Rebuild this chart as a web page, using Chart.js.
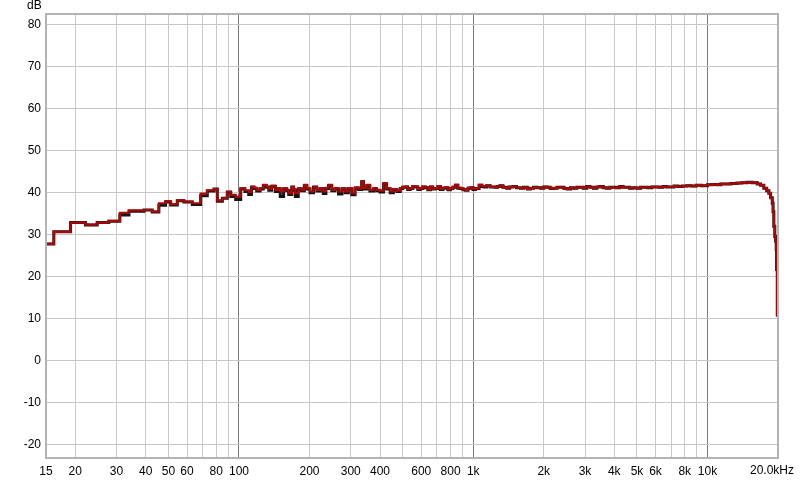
<!DOCTYPE html>
<html>
<head>
<meta charset="utf-8">
<script src="https://cdn.jsdelivr.net/npm/chart.js@4.4.1/dist/chart.umd.min.js"></script>
<style>
  html, body { margin: 0; padding: 0; background: #ffffff; }
  #wrap { width: 800px; height: 481px; position: relative; }
</style>
</head>
<body>
<div id="wrap"><canvas id="c" width="800" height="481"></canvas></div>
<script>
// ---- data ----
const freqHz = [
  15, 16.2, 19.1, 22.1, 24.8, 27.8, 31.0, 33.9, 39.3, 42.6,
  45.5, 48.6, 51.1, 54.5, 58.2, 63.2, 68.6, 73.2, 78.2, 80.8,
  84.9, 89.1, 92.2, 96.8, 101.7, 106, 110, 113, 116, 119,
  123, 127, 131, 134, 138, 143, 147, 150, 155, 160,
  163, 168, 171, 174, 179, 185, 190, 195, 201, 208,
  215, 222, 229, 235, 241, 249, 257, 266, 275, 284,
  293, 303, 313, 324, 334, 340, 351, 362, 375, 387,
  400, 414, 427, 442, 456, 472, 488, 500, 512, 525,
  538, 552, 565, 580, 594, 609, 624, 640, 656, 672,
  689, 706, 724, 742, 760, 780, 799, 819, 839, 860,
  882, 904, 927, 950, 974, 998, 1023, 1059, 1090, 1111,
  1140, 1180, 1240, 1270, 1300, 1340, 1390, 1430, 1480, 1530,
  1590, 1640, 1700, 1750, 1810, 1870, 1940, 2000, 2070, 2130,
  2200, 2280, 2360, 2440, 2520, 2600, 2680, 2770, 2860, 2950,
  3050, 3150, 3260, 3370, 3480, 3590, 3710, 3830, 3950, 4080,
  4220, 4360, 4500, 4650, 4800, 5000, 5180, 5370, 5570, 5780,
  5990, 6200, 6450, 6690, 6930, 7200, 7480, 7800, 8170, 8550,
  8950, 9400, 9990, 10500, 11000, 11400, 12000, 12600, 13350, 14000,
  14760, 15500, 16000, 16310, 16850, 17400, 17900, 18280, 18600, 18900,
  19050, 19200, 19380, 19530, 19650, 19720, 19860
];
const redDb = [
  27.8, 30.7, 32.9, 32.4, 32.9, 33.3, 35.2, 35.8, 35.9, 35.5,
  37.5, 38.0, 37.3, 38.2, 37.9, 37.5, 39.8, 40.6, 40.9, 38.2,
  38.7, 40.3, 39.5, 39.0, 41.1, 40.6, 40.2, 41.5, 41.2, 40.7,
  41.1, 41.9, 41.5, 41.0, 41.7, 40.7, 41.1, 40.3, 41.1, 40.7,
  39.9, 41.5, 40.9, 39.9, 41.1, 40.7, 41.9, 41.1, 40.3, 41.5,
  40.7, 41.1, 40.3, 41.2, 41.9, 40.7, 41.1, 40.3, 41.1, 40.3,
  41.1, 39.9, 41.3, 41.0, 42.8, 41.1, 41.9, 40.7, 41.1, 40.7,
  40.5, 42.3, 41.1, 40.3, 40.9, 40.5, 41.1, 41.4, 41.5, 40.9,
  41.1, 41.6, 41.5, 40.9, 41.1, 41.5, 41.3, 40.8, 41.5, 41.0,
  41.1, 41.6, 40.9, 41.2, 41.3, 40.8, 41.1, 41.4, 41.9, 41.2,
  41.1, 40.8, 40.7, 41.2, 41.3, 40.9, 41.1, 41.9, 41.6, 41.5,
  41.7, 41.4, 41.3, 41.5, 41.7, 41.3, 41.1, 41.4, 41.5, 41.2,
  41.1, 41.3, 40.9, 41.1, 41.3, 41.2, 41.1, 41.4, 41.3, 41.0,
  41.1, 41.3, 41.3, 41.0, 40.9, 41.2, 41.1, 41.3, 41.3, 41.1,
  41.5, 41.3, 41.1, 41.4, 41.5, 41.2, 41.1, 41.3, 41.3, 41.2,
  41.5, 41.3, 41.3, 41.1, 41.2, 41.1, 41.3, 41.3, 41.2, 41.4,
  41.4, 41.3, 41.5, 41.4, 41.4, 41.6, 41.5, 41.6, 41.7, 41.6,
  41.8, 41.7, 41.9, 42.0, 41.9, 42.1, 42.1, 42.2, 42.3, 42.4,
  42.5, 42.4, 42.4, 42.1, 41.8, 41.1, 40.5, 39.9, 38.8, 37.5,
  35.5, 32.0, 29.6, 28.5, 26.5, 21.7, 10.5
];
const blackDb = [
  27.8, 30.7, 32.9, 32.3, 32.9, 33.2, 34.7, 35.6, 35.9, 35.4,
  37.0, 37.8, 37.1, 38.1, 37.8, 37.2, 39.3, 40.4, 40.9, 38.0,
  38.7, 40.1, 39.1, 38.4, 40.9, 40.3, 39.6, 41.3, 41.0, 40.4,
  40.9, 41.7, 41.3, 40.6, 41.5, 40.3, 40.9, 39.1, 40.9, 40.5,
  39.6, 41.3, 40.6, 39.1, 40.8, 40.5, 41.7, 40.9, 40.0, 41.3,
  40.4, 40.9, 39.8, 41.0, 41.7, 40.5, 40.9, 39.7, 40.9, 40.0,
  40.9, 39.5, 41.1, 40.8, 42.6, 40.9, 41.7, 40.4, 40.9, 40.5,
  40.2, 42.1, 40.9, 40.0, 40.7, 40.3, 41.0, 41.3, 41.4, 40.8,
  41.0, 41.5, 41.4, 40.8, 41.0, 41.4, 41.2, 40.7, 41.4, 40.9,
  41.0, 41.5, 40.8, 41.1, 41.2, 40.7, 41.0, 41.3, 41.8, 41.1,
  41.0, 40.7, 40.6, 41.1, 41.2, 40.8, 41.0, 41.8, 41.5, 41.4,
  41.7, 41.4, 41.3, 41.5, 41.7, 41.3, 41.1, 41.4, 41.5, 41.2,
  41.1, 41.3, 40.9, 41.1, 41.3, 41.2, 41.1, 41.4, 41.3, 41.0,
  41.1, 41.3, 41.3, 41.0, 40.9, 41.2, 41.1, 41.3, 41.3, 41.1,
  41.5, 41.3, 41.1, 41.4, 41.5, 41.2, 41.1, 41.3, 41.3, 41.2,
  41.5, 41.3, 41.3, 41.1, 41.2, 41.1, 41.3, 41.3, 41.2, 41.4,
  41.4, 41.3, 41.5, 41.4, 41.4, 41.6, 41.5, 41.6, 41.7, 41.6,
  41.8, 41.7, 41.9, 42.0, 41.9, 42.1, 42.1, 42.2, 42.3, 42.4,
  42.5, 42.4, 42.4, 42.1, 41.8, 41.1, 40.5, 39.9, 38.8, 37.5,
  35.5, 32.0, 29.6, 28.5, 26.5, 21.7, 10.5
];
const xGridHz = [
  15, 20, 30, 40, 50, 60, 70, 80, 90, 100,
  200, 300, 400, 500, 600, 700, 800, 900, 1000,
  2000, 3000, 4000, 5000, 6000, 7000, 8000, 9000, 10000, 20000
];
const xTickLabels = {
  15: '15', 20: '20', 30: '30', 40: '40', 50: '50', 60: '60', 80: '80', 100: '100',
  200: '200', 300: '300', 400: '400', 600: '600', 800: '800', 1000: '1k',
  2000: '2k', 3000: '3k', 4000: '4k', 5000: '5k', 6000: '6k', 8000: '8k', 10000: '10k'
};
const xEndLabel = '20.0kHz';
const decadeHz = [100, 1000, 10000];
const yTicks = [-20, -10, 0, 10, 20, 30, 40, 50, 60, 70, 80];
const yUnit = 'dB';

// ---- chart ----
const toPoints = (xs, ys) => xs.map((x, i) => ({ x: x, y: ys[i] }));
const FONT = { family: '"Liberation Sans", Arial, sans-serif', size: 12 };

const framePlugin = {
  id: 'frame',
  afterDraw(chart) {
    const { ctx, chartArea: a } = chart;
    ctx.save();
    ctx.strokeStyle = '#b4b4b4';
    ctx.lineWidth = 2;
    ctx.strokeRect(a.left, a.top, a.right - a.left, a.bottom - a.top);
    ctx.fillStyle = '#000';
    ctx.font = '12px "Liberation Sans", Arial, sans-serif';
    ctx.textBaseline = 'middle';
    ctx.textAlign = 'left';
    ctx.fillText(yUnit, 27, 6);
    // end-of-axis label, pulled inside the canvas as in the reference
    ctx.textAlign = 'center';
    ctx.fillText(xEndLabel, a.right - 6, 471);
    ctx.restore();
  }
};

new Chart(document.getElementById('c'), {
  type: 'line',
  data: {
    datasets: [
      {
        label: 'red',
        data: toPoints(freqHz, redDb),
        borderColor: '#a80808',
        borderWidth: 2.2,
        stepped: true,
        pointRadius: 0,
        fill: false
      },
      {
        label: 'black',
        data: toPoints(freqHz, blackDb),
        borderColor: '#141414',
        borderWidth: 3,
        stepped: true,
        pointRadius: 0,
        fill: false
      }
    ]
  },
  plugins: [framePlugin],
  options: {
    responsive: false,
    animation: false,
    events: [],
    layout: { padding: { left: 0, right: 22, top: 14, bottom: 0 } },
    plugins: { legend: { display: false }, tooltip: { enabled: false }, title: { display: false } },
    scales: {
      x: {
        type: 'logarithmic',
        min: 15,
        max: 20000,
        afterBuildTicks: (s) => { s.ticks = xGridHz.map(v => ({ value: v })); },
        afterFit: (s) => { s.height = 23; s.paddingLeft = 0; s.paddingRight = 0; },
        ticks: {
          autoSkip: false,
          maxRotation: 0,
          minRotation: 0,
          padding: 6,
          color: '#000',
          font: FONT,
          callback: (v) => xTickLabels[v] || ''
        },
        grid: {
          drawTicks: false,
          lineWidth: 1,
          color: (c) => decadeHz.includes(c.tick && c.tick.value) ? '#7a7a7a' : '#c8c8c8'
        },
        border: { display: false }
      },
      y: {
        type: 'linear',
        min: -23.2,
        max: 82.6,
        afterBuildTicks: (s) => { s.ticks = yTicks.map(v => ({ value: v })); },
        afterFit: (s) => { s.width = 46; },
        ticks: {
          padding: 5,
          color: '#000',
          font: FONT
        },
        grid: { drawTicks: false, color: '#c8c8c8', lineWidth: 1 },
        border: { display: false }
      }
    }
  }
});
</script>
</body>
</html>
